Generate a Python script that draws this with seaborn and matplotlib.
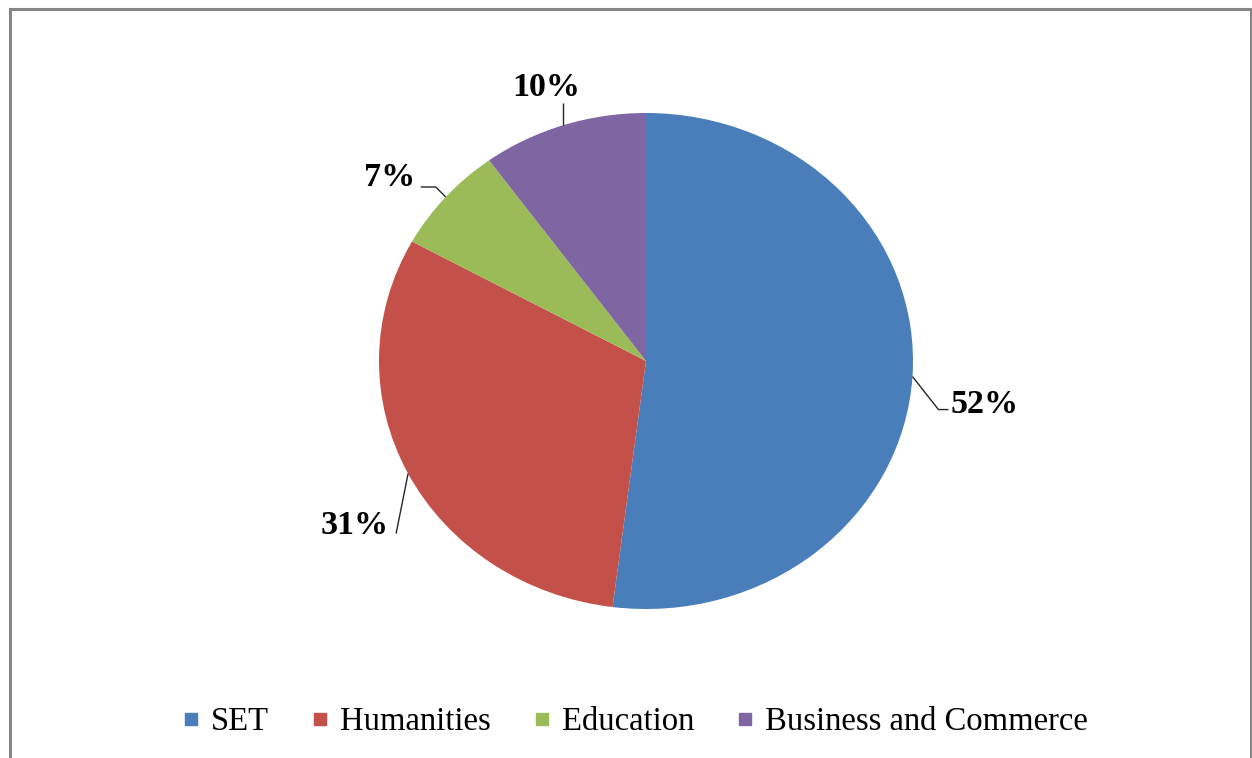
import matplotlib
matplotlib.use("Agg")
import matplotlib.pyplot as plt
from matplotlib.lines import Line2D
from matplotlib.patches import Rectangle
import numpy as np
import seaborn as sns

# Share of enrolment by field
categories = ["SET", "Humanities", "Education", "Business and Commerce"]
shares = [52, 31, 7, 10]
colors = ["#4A7EBB", "#C4504A", "#9BBB59", "#7F65A1"]

sns.set_theme(style="white")
plt.rcParams["font.family"] = ["Liberation Serif", "DejaVu Serif"]
plt.rcParams["text.color"] = "black"

W, H = 1252, 758
fig = plt.figure(figsize=(W / 100, H / 100), dpi=100)
ax = fig.add_axes([0, 0, 1, 1])

# Pie centre and radii in pixels (the pie is drawn slightly wider than tall)
CX, CY = 646, 361
RX, RY = 267, 248

palette = sns.color_palette(colors)
ax.pie(shares, colors=palette, startangle=90, counterclock=False,
       radius=1, center=(0, 0), wedgeprops=dict(linewidth=0))
ax.set_aspect("auto")
ax.set_xlim(-CX / RX, (W - CX) / RX)
ax.set_ylim(-(H - CY) / RY, CY / RY)
ax.axis("off")


def off(p, dx, dy):
    """Shift a data point by a pixel offset (dy positive = downwards)."""
    return p[0] + dx / RX, p[1] - dy / RY


# Leader line paths and label anchors, as pixel offsets from the wedge edge
leaders = {
    "SET": dict(path=[(0, 0), (26, 33), (36, 33)], text=(38, 36), ha="left"),
    "Humanities": dict(path=[(0, 0), (-12, 60)], text=(-19, 60), ha="right"),
    "Education": dict(path=[(0, 0), (-10, -10), (-25, -10)], text=(-30, -11), ha="right"),
    "Business and Commerce": dict(path=[(0, 0), (0, -22)], text=(-17, -29), ha="center"),
}

total = sum(shares)
cum = 0
for cat, val in zip(categories, shares):
    theta = np.deg2rad(90 - 360 * (cum + val / 2) / total)
    cum += val
    edge = (np.cos(theta), np.sin(theta))
    spec = leaders[cat]
    pts = [off(edge, dx, dy) for dx, dy in spec["path"]]
    ax.plot([p[0] for p in pts], [p[1] for p in pts], color="#262626",
            lw=1.0, solid_capstyle="butt")
    tx, ty = off(edge, *spec["text"])
    ax.text(tx, ty, f"{val}%", ha=spec["ha"], va="baseline",
            fontsize=24.5, fontweight="bold", color="black")

handles = [Line2D([0], [0], marker="s", linestyle="none", markersize=9,
                  markerfacecolor=c, markeredgecolor=c) for c in palette]
fig.legend(handles, categories, loc="center", ncol=4, frameon=False,
           bbox_to_anchor=(0.508, 1 - 722 / H), fontsize=23.5,
           handlelength=0.42, handletextpad=0.4, columnspacing=1.36,
           borderaxespad=0, labelcolor="black")

# Grey outer frame
fig.patches.append(Rectangle((9.5 / W, -0.02), (1250.5 - 9.5) / W, 1.02 - 9.5 / H,
                             transform=fig.transFigure, fill=False,
                             edgecolor="#868686", linewidth=2.2))

fig.savefig("out.png", dpi=100, facecolor="white")
